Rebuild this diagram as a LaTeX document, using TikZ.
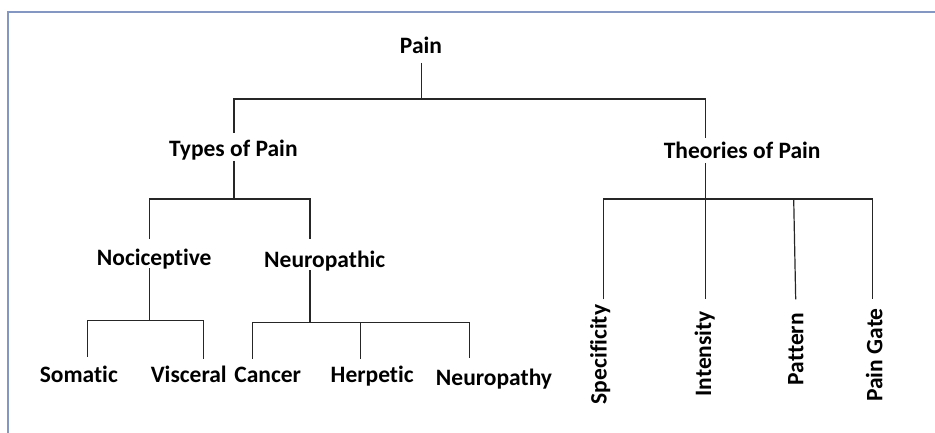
\documentclass[tikz,border=0pt]{standalone}
\usepackage{fontspec}
\setmainfont{Carlito}[Ligatures=CommonOff]
\definecolor{framecol}{RGB}{132,151,194}
\definecolor{linkcol}{RGB}{38,38,38}
\begin{document}
\begin{tikzpicture}[x=1pt,y=-1pt,
  lbl/.style={font=\bfseries\fontsize{23.5}{28}\selectfont, inner sep=0pt, anchor=base},
  vlbl/.style={lbl, rotate=90},
  link/.style={draw=linkcol, line width=1.2pt}]
\useasboundingbox (0,0) rectangle (935,433);
% outer frame (only its left and top sides lie in view)
\draw[framecol, line width=2.2pt] (8,440) -- (8,12) -- (940,12);

% labels
\node[lbl] (pain)       at (421,54)      {Pain};
\node[lbl] (types)      at (233.3,157)   {Types of Pain};
\node[lbl] (theories)   at (742.2,158.5) {Theories of Pain};
\node[lbl] (noci)       at (154.2,265)   {Nociceptive};
\node[lbl] (neuro)      at (324.7,267)   {Neuropathic};
\node[lbl] (somatic)    at (78.8,382.5)  {Somatic};
\node[lbl] (visceral)   at (188.8,382.5) {Visceral};
\node[lbl] (cancer)     at (267.7,382.5) {Cancer};
\node[lbl] (herpetic)   at (372.2,382.5) {Herpetic};
\node[lbl] (neuropathy) at (494,385)     {Neuropathy};
\node[vlbl] (spec)      at (606.7,354.5) {Specificity};
\node[vlbl] (inten)     at (711,353.7)   {Intensity};
\node[vlbl] (patt)      at (803.3,349.2) {Pattern};
\node[vlbl] (gate)      at (882.3,355)   {Pain Gate};

% connector end points next to the labels
\coordinate (pain-s)     at (421.7,63);
\coordinate (types-n)    at (234,133);
\coordinate (types-s)    at (234,161);
\coordinate (theo-n)     at (705.7,138);
\coordinate (theo-s)     at (705.7,163);
\coordinate (noci-n)     at (149.7,239);
\coordinate (noci-s)     at (149.7,268);
\coordinate (neuro-n)    at (310,239);
\coordinate (neuro-s)    at (310,270);
\coordinate (somatic-n)  at (87.3,356.7);
\coordinate (visceral-n) at (203.3,359);
\coordinate (cancer-n)   at (252.3,359);
\coordinate (herp-n)     at (360.3,359);
\coordinate (neurop-n)   at (469.7,358.3);
\coordinate (spec-n)     at (603.7,299.3);
\coordinate (inten-n)    at (705.7,299.3);
\coordinate (patt-n)     at (795.7,299.3);
\coordinate (gate-n)     at (872.7,299.3);

% junction bars
\coordinate (bar1)  at (421.7,99);
\coordinate (bar2)  at (234,199);
\coordinate (bar3)  at (149.7,320.7);
\coordinate (bar4)  at (310,322.3);
\coordinate (bar5)  at (705.7,199);

% Pain
\draw[link] (pain-s) -- (bar1);
\draw[link] (types-n) |- (bar1) -| (theo-n);
% Types of Pain
\draw[link] (types-s) -- (bar2);
\draw[link] (noci-n) |- (bar2) -| (neuro-n);
% Nociceptive
\draw[link] (noci-s) -- (bar3);
\draw[link] (somatic-n) |- (bar3) -| (visceral-n);
% Neuropathic
\draw[link] (neuro-s) -- (bar4);
\draw[link] (cancer-n) |- (bar4) -| (neurop-n);
\draw[link] (herp-n) -- (herp-n |- bar4);
% Theories of Pain
\draw[link] (theo-s) -- (inten-n);
\draw[link] (spec-n) |- (bar5) -| (gate-n);
\draw[link] (patt-n) -- ([xshift=-2pt]patt-n |- bar5);
\end{tikzpicture}
\end{document}
